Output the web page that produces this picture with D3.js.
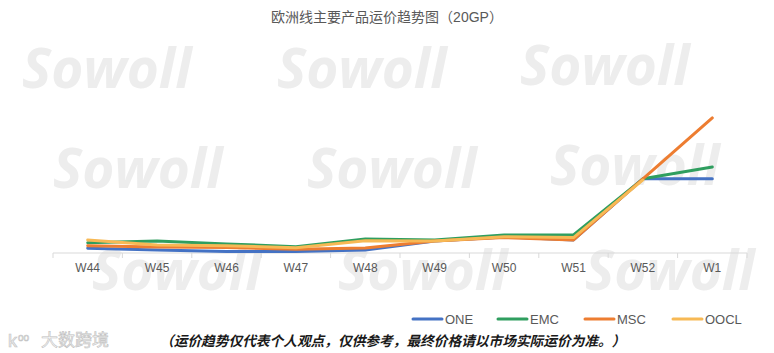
<!DOCTYPE html>
<html>
<head>
<meta charset="utf-8">
<script src="https://cdn.jsdelivr.net/npm/d3@7"></script>
<style>
  body { margin: 0; background: #fff; }
  svg { display: block; font-family: Arial, "Liberation Sans", "Noto Sans CJK SC", sans-serif; }
</style>
</head>
<body>
<svg id="chart" width="774" height="353"></svg>
<script>
// week labels on the x axis
var weeks = ["W44","W45","W46","W47","W48","W49","W50","W51","W52","W1"];

// 20GP rates (USD), null = no point
var oneRates  = [500, 465, 430, 430, 465, 655, 745, 680, 1990, 1990];
var emcRates  = [620, 655, 595, 535, 700, 680, 785, 785, 1990, 2245];
var mscRates  = [555, 530, 520, 480, 505, 655, 730, 680, 1990, 3295];
var ooclRates = [680, 570, 555, 515, 665, 655, 750, 730, 1965, null];

var seriesNames  = ["ONE", "EMC", "MSC", "OOCL"];
var seriesColors = ["#4472c4", "#2f9e5f", "#ed7d31", "#f7b955"];

var titleText = "欧洲线主要产品运价趋势图（20GP）";
var noteText = "（运价趋势仅代表个人观点，仅供参考，最终价格请以市场实际运价为准。）";

var svg = d3.select("#chart");
var margins = { left: 53, right: 27, top: 85, axisY: 253 };

// watermarks behind everything
var marks = [[22, 88], [277, 88], [520, 85], [53, 188], [307, 188], [550, 185], [92, 290], [338, 290], [585, 290]];
svg.append("g")
   .selectAll("text")
   .data(marks)
   .enter()
   .append("text")
   .attr("x", d => d[0])
   .attr("y", d => d[1])
   .style("font-family", "'Open Sans', 'DejaVu Sans', sans-serif")
   .style("font-size", "55px")
   .style("font-weight", 700)
   .style("font-style", "italic")
   .style("fill", "#ededed")
   .text("Sowoll");

svg.append("text")
   .attr("x", 387)
   .attr("y", 22)
   .attr("text-anchor", "middle")
   .style("font-size", "14px")
   .style("fill", "#595959")
   .text(titleText);

var x = d3.scaleBand()
          .domain(weeks)
          .range([margins.left, 774 - margins.right]);

var y = d3.scaleLinear()
          .domain([400, 4000])
          .range([margins.axisY, margins.top]);

// category axis: baseline + boundary ticks
var axisG = svg.append("g").attr("transform", "translate(0," + margins.axisY + ")");
axisG.append("line")
     .attr("x1", x.range()[0]).attr("x2", x.range()[1])
     .attr("stroke", "#d9d9d9");
var bounds = weeks.map(w => x(w)).concat([x.range()[1]]);
axisG.selectAll(".tk")
     .data(bounds)
     .enter()
     .append("line")
     .attr("x1", d => d).attr("x2", d => d)
     .attr("y1", 0).attr("y2", 5)
     .attr("stroke", "#d9d9d9");
axisG.selectAll(".lbl")
     .data(weeks)
     .enter()
     .append("text")
     .attr("x", d => x(d) + x.bandwidth() / 2)
     .attr("y", 19)
     .attr("text-anchor", "middle")
     .style("font-size", "12px")
     .style("fill", "#595959")
     .text(d => d);

var allSeries = [oneRates, emcRates, mscRates, ooclRates];

var line = d3.line()
             .defined(d => d != null)
             .x((d, i) => x(weeks[i]) + x.bandwidth() / 2)
             .y(d => y(d));

svg.append("g")
   .selectAll("path")
   .data(allSeries)
   .enter()
   .append("path")
   .attr("d", d => line(d))
   .attr("fill", "none")
   .attr("stroke", (d, i) => seriesColors[i])
   .attr("stroke-width", 3)
   .attr("stroke-linejoin", "round")
   .attr("stroke-linecap", "round");

// legend
var legendX = [413, 498, 585, 673];
var legend = svg.append("g")
                .selectAll("g")
                .data(seriesNames)
                .enter()
                .append("g")
                .attr("transform", (d, i) => "translate(" + legendX[i] + ",319)");
legend.append("line")
      .attr("x1", 0).attr("x2", 29)
      .attr("stroke", (d, i) => seriesColors[i])
      .attr("stroke-width", 3)
      .attr("stroke-linecap", "round");
legend.append("text")
      .attr("x", 32)
      .attr("y", 4.5)
      .style("font-size", "13px")
      .style("fill", "#595959")
      .text(d => d);

// footnote
svg.append("text")
   .attr("x", 160)
   .attr("y", 346)
   .style("font-size", "13.7px")
   .style("font-weight", 700)
   .style("font-style", "italic")
   .style("fill", "#1a1a1a")
   .text(noteText);

// faint logo bottom-left
var logo = svg.append("g").attr("transform", "translate(8,347)");
logo.append("text")
    .attr("x", 0)
    .style("font-size", "18px")
    .style("fill", "#f5f5f5")
    .style("stroke", "#c4c4c4")
    .style("stroke-width", 0.7)
    .text("k");
logo.append("text")
    .attr("x", 10).attr("y", -6)
    .style("font-size", "10px")
    .style("fill", "#f5f5f5")
    .style("stroke", "#c4c4c4")
    .style("stroke-width", 0.6)
    .text("oo");
logo.append("text")
    .attr("x", 33)
    .attr("y", -1)
    .style("font-size", "17px")
    .style("fill", "#f5f5f5")
    .style("stroke", "#c0c0c0")
    .style("stroke-width", 0.6)
    .text("大数跨境");
</script>
</body>
</html>
